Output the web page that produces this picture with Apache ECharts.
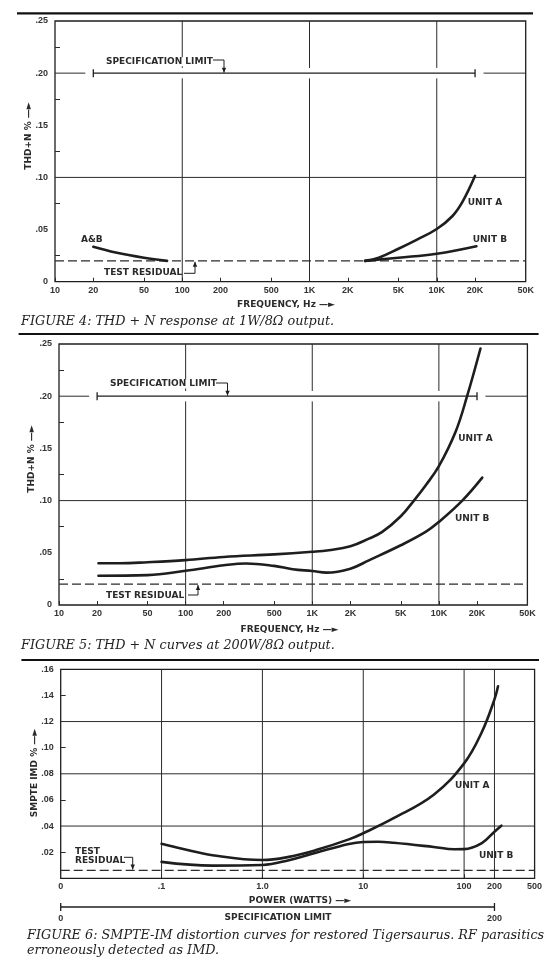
<!DOCTYPE html>
<html>
<head>
<meta charset="utf-8">
<script src="https://cdn.jsdelivr.net/npm/echarts@6/dist/echarts.min.js"></script>
<style>
html, body { margin: 0; padding: 0; background: #fff; }
#main { width: 560px; height: 962px; }
</style>
</head>
<body>
<div id="main"></div>
<script>
// ---- axes ----
var freqTicks = [10, 20, 50, 100, 200, 500, 1000, 2000, 5000, 10000, 20000, 50000];
var freqLabels = ['10', '20', '50', '100', '200', '500', '1K', '2K', '5K', '10K', '20K', '50K'];
var freqGrid = [100, 1000, 10000];
var thdGridY = [0.10];
var thdMinorTicks = [0.025, 0.075, 0.125, 0.175, 0.225];

var powerTicks = [0.01, 0.1, 1, 10, 100, 200, 500];
var powerLabels = ['0', '.1', '1.0', '10', '100', '200', '500'];
var powerGrid = [0.1, 1, 10, 100, 200];
var imdGridY = [0.04, 0.08, 0.12];
var imdMinorTicks = [0.02, 0.06, 0.10, 0.14];

// ---- limits ----
var specLimit = 0.20;
var specRange = [20, 20000];
var specGapLeft = 17.3;     // .20 grid line stops here
var specGapRight = 23300;   // and starts again here
var thdResidual = 0.02;
var imdResidual = 0.006;
var powerSpec = [0.01, 200];
var powerSpecLabels = ['0', '200'];

// ---- FIGURE 4 : 1W/8 ohm ----
var fig4AB = [[20, 0.0335], [30, 0.028], [50, 0.023], [76, 0.020]];
var fig4A = [[2730, 0.020], [3500, 0.023], [5000, 0.0316], [7000, 0.0404], [10000, 0.0505],
             [13300, 0.063], [16000, 0.077], [20000, 0.1015]];
var fig4B = [[2730, 0.020], [5000, 0.023], [10000, 0.0268], [20500, 0.034]];

// ---- FIGURE 5 : 200W/8 ohm ----
var fig5A = [[20.5, 0.040], [30, 0.040], [50, 0.041], [100, 0.043], [200, 0.046], [500, 0.0485],
             [1000, 0.051], [1350, 0.0525], [2000, 0.0562], [2800, 0.0636], [3570, 0.070], [5000, 0.085],
             [6350, 0.100], [7850, 0.1145], [10000, 0.133], [13550, 0.166], [16700, 0.200], [21300, 0.2457]];
var fig5B = [[20.5, 0.028], [50, 0.0286], [100, 0.0328], [200, 0.038], [300, 0.0398], [500, 0.0375],
             [700, 0.0343], [1000, 0.0325], [1300, 0.031], [2000, 0.0348], [2800, 0.0428], [5000, 0.0572],
             [7850, 0.070], [10000, 0.0796], [15300, 0.100], [22000, 0.122]];

// ---- FIGURE 6 : SMPTE IMD vs power ----
var fig6A = [[0.1, 0.0264], [0.16, 0.0226], [0.32, 0.0177], [1, 0.014], [1.83, 0.0164], [3.4, 0.0216],
             [7.2, 0.0298], [10, 0.0345], [20, 0.046], [50, 0.064], [100, 0.088], [150, 0.112],
             [200, 0.137], [217, 0.147]];
var fig6B = [[0.1, 0.0126], [0.32, 0.0097], [1, 0.0102], [1.83, 0.0139], [3.4, 0.0196], [7.2, 0.0263],
             [10, 0.0278], [14, 0.028], [20, 0.0272], [50, 0.0240], [80, 0.0222], [100, 0.0223],
             [150, 0.027], [200, 0.0357], [234, 0.0403]];

var INK = '#1e1e1e';
var GRIDC = '#2b2b2b';
var SANS = '"Liberation Sans", Arial, sans-serif';
var LETTER = '"DejaVu Sans", "Liberation Sans", sans-serif';
var SERIF = '"DejaVu Serif", "Liberation Serif", serif';

var myChart = echarts.init(document.getElementById('main'));

function pickLabel(ticks, labels) {
	return function(v) {
		for (var i = 0; i < ticks.length; i++) {
			if (Math.abs(Math.log10(ticks[i]) - Math.log10(v)) < 1e-6) return labels[i];
		}
		return '';
	};
}

function logAxis(gi, min, max, ticks, labels, show) {
	return {
		type : 'log',
		logBase : 10,
		gridIndex : gi,
		min : min,
		max : max,
		show : show !== false,
		axisLine : { show : false },
		axisTick : { show : true, inside : true, length : 4, customValues : ticks,
			lineStyle : { color : GRIDC, width : 1 } },
		axisLabel : { customValues : ticks, formatter : pickLabel(ticks, labels), margin : 4,
			fontFamily : SANS, fontSize : 9, fontWeight : 'bold', color : '#333' },
		splitLine : { show : false }
	};
}

function valAxis(gi, max, interval, minor, showZero) {
	return {
		type : 'value',
		gridIndex : gi,
		min : 0,
		max : max,
		interval : interval,
		axisLine : { show : false },
		axisTick : { show : true, inside : true, length : 5, customValues : minor,
			lineStyle : { color : GRIDC, width : 1 } },
		axisLabel : {
			margin : 7, fontFamily : SANS, fontSize : 9, fontWeight : 'bold', color : '#333',
			formatter : function(v) {
				if (Math.abs(v) < 1e-9) return showZero ? '0' : '';
				return v.toFixed(2).replace('0.', '.');
			}
		},
		splitLine : { show : false }
	};
}

function seg(gi, pts, width, type) {
	return {
		type : 'line', xAxisIndex : gi, yAxisIndex : gi, data : pts, silent : true,
		showSymbol : false, symbol : 'none', animation : false, z : 1,
		lineStyle : { color : GRIDC, width : width || 1, type : type || 'solid' }
	};
}

function curve(gi, pts) {
	return {
		type : 'line', xAxisIndex : gi, yAxisIndex : gi, data : pts, silent : true,
		smooth : 0.4, showSymbol : false, symbol : 'none',
		animation : false, z : 5,
		lineStyle : { color : INK, width : 2.6, cap : 'round' }
	};
}

function specLine(gi, range, y) {
	return {
		type : 'line', xAxisIndex : gi, yAxisIndex : gi, silent : true, animation : false, z : 3,
		data : [[range[0], y], [range[1], y]],
		symbol : 'rect', symbolSize : [1.3, 8], showSymbol : true,
		itemStyle : { color : INK },
		lineStyle : { color : INK, width : 1.2 }
	};
}

var series = [];

// figure 4 and 5 share layout
[0, 1].forEach(function(gi) {
	// vertical grid lines with a break at the spec-limit line
	freqGrid.forEach(function(f) {
		series.push(seg(gi, [[f, 0], [f, specLimit - 0.005]]));
		series.push(seg(gi, [[f, specLimit + 0.005], [f, 0.25]]));
	});
	thdGridY.forEach(function(y) {
		series.push(seg(gi, [[10, y], [50000, y]]));
	});
	series.push(seg(gi, [[10, specLimit], [specGapLeft, specLimit]]));
	series.push(seg(gi, [[specGapRight, specLimit], [50000, specLimit]]));
	series.push(specLine(gi, specRange, specLimit));
	series.push(seg(gi, [[10, thdResidual], [50000, thdResidual]], 1.3, [9, 4]));
});

series.push(curve(0, fig4AB));
series.push(curve(0, fig4A));
series.push(curve(0, fig4B));
series.push(curve(1, fig5A));
series.push(curve(1, fig5B));

// figure 6
powerGrid.forEach(function(p) {
	series.push(seg(2, [[p, 0], [p, 0.16]]));
});
imdGridY.forEach(function(y) {
	series.push(seg(2, [[0.01, y], [500, y]]));
});
series.push(seg(2, [[0.01, imdResidual], [500, imdResidual]], 1.3, [9, 4]));
series.push(curve(2, fig6A));
series.push(curve(2, fig6B));

// power spec bracket under figure 6
series.push({
	type : 'line', xAxisIndex : 3, yAxisIndex : 3, silent : true, animation : false,
	data : [[powerSpec[0], 0.5], [powerSpec[1], 0.5]],
	symbol : 'rect', symbolSize : [1.3, 8], showSymbol : true,
	itemStyle : { color : INK },
	lineStyle : { color : INK, width : 1.3 },
	label : {
		show : true, position : 'bottom', distance : 3,
		fontFamily : SANS, fontSize : 9, fontWeight : 'bold', color : '#333',
		formatter : function(p) { return powerSpecLabels[p.dataIndex]; }
	}
});

var gridStyle = { show : true, borderColor : INK, borderWidth : 1.3, backgroundColor : 'transparent' };

myChart.setOption({
	backgroundColor : '#fff',
	animation : false,
	grid : [
		Object.assign({ left : 55, top : 21, width : 470.7, height : 260.7 }, gridStyle),
		Object.assign({ left : 59, top : 344, width : 468.4, height : 261 }, gridStyle),
		Object.assign({ left : 60.7, top : 669.3, width : 473.9, height : 209 }, gridStyle),
		{ left : 60.7, top : 902, width : 473.9, height : 10, show : false }
	],
	xAxis : [
		logAxis(0, 10, 50000, freqTicks, freqLabels),
		logAxis(1, 10, 50000, freqTicks, freqLabels),
		logAxis(2, 0.01, 500, powerTicks, powerLabels),
		logAxis(3, 0.01, 500, powerTicks, powerLabels, false)
	],
	yAxis : [
		valAxis(0, 0.25, 0.05, thdMinorTicks, true),
		valAxis(1, 0.25, 0.05, thdMinorTicks, true),
		valAxis(2, 0.16, 0.02, imdMinorTicks, false),
		{ type : 'value', gridIndex : 3, min : 0, max : 1, show : false }
	],
	series : series
});

// ---- annotations ----
function px(gi, x, y) {
	return myChart.convertToPixel({ xAxisIndex : gi, yAxisIndex : gi }, [x, y]);
}

var g = [];

function txt(x, y, s, opt) {
	opt = opt || {};
	g.push({
		type : 'text', x : x, y : y, z : 20, rotation : opt.rot || 0,
		style : {
			text : s, fill : opt.color || '#2a2a2a',
			font : opt.font || ('bold 9px ' + LETTER),
			textAlign : opt.align || 'left', textVerticalAlign : 'middle',
			backgroundColor : opt.bg, padding : opt.bg ? [0, 2] : 0
		}
	});
}

function hook(x0, x1, yTop, yTip) {
	// horizontal leader from label end, then a vertical arrow to the line
	g.push({ type : 'polyline', z : 20, shape : { points : [[x0, yTop], [x1, yTop], [x1, yTip]] },
		style : { stroke : INK, lineWidth : 1, fill : null } });
	var d = yTip > yTop ? 1 : -1;
	g.push({ type : 'polygon', z : 20,
		shape : { points : [[x1 - 2.2, yTip - d * 5], [x1 + 2.2, yTip - d * 5], [x1, yTip]] },
		style : { fill : INK } });
}

function rule(y, x0, x1) {
	g.push({ type : 'line', z : 20, shape : { x1 : x0, y1 : y, x2 : x1, y2 : y },
		style : { stroke : '#111', lineWidth : 2.2 } });
}

var ARROW = '\u2014\u25BA';
var CAP = 'italic 12.8px ' + SERIF;

// figure 4
rule(13.3, 17, 533);
txt(104, 61.7, 'SPECIFICATION LIMIT', { bg : '#fff' });
hook(213, 224, 60, px(0, 10, specLimit)[1] - 0.5);
txt(81, 240, 'A&B');
txt(104, 272.3, 'TEST RESIDUAL');
hook(184, 195, 273.3, px(0, 10, thdResidual)[1] + 1);
txt(467.7, 202.7, 'UNIT A');
txt(472.7, 240, 'UNIT B');
txt(28.6, 136, 'THD+N % ' + ARROW, { rot : Math.PI / 2, align : 'center' });
txt(286, 305, 'FREQUENCY, Hz ' + ARROW, { align : 'center' });
txt(21, 322, 'FIGURE 4: THD + N response at 1W/8\u03A9 output.', { font : CAP, color : '#222' });

// figure 5
rule(334, 18.6, 538.6);
txt(108, 384, 'SPECIFICATION LIMIT', { bg : '#fff' });
hook(216, 227.5, 383, px(1, 10, specLimit)[1] - 0.5);
txt(106, 596, 'TEST RESIDUAL');
hook(188, 198, 595, px(1, 10, thdResidual)[1] + 1);
txt(458.3, 438.7, 'UNIT A');
txt(455, 518.3, 'UNIT B');
txt(31.4, 459, 'THD+N % ' + ARROW, { rot : Math.PI / 2, align : 'center' });
txt(289.5, 629.3, 'FREQUENCY, Hz ' + ARROW, { align : 'center' });
txt(21, 646, 'FIGURE 5: THD + N curves at 200W/8\u03A9 output.', { font : CAP, color : '#222' });

// figure 6
rule(660, 21.4, 539);
txt(75, 851.7, 'TEST');
txt(75, 861, 'RESIDUAL');
hook(124, 132.7, 857.3, px(2, 0.01, imdResidual)[1] - 1);
txt(455, 785.7, 'UNIT A');
txt(479, 856, 'UNIT B');
txt(35, 773, 'SMPTE IMD % ' + ARROW, { rot : Math.PI / 2, align : 'center' });
txt(300, 900.7, 'POWER (WATTS) ' + ARROW, { align : 'center' });
txt(278, 918, 'SPECIFICATION LIMIT', { align : 'center' });
txt(27, 935.7, 'FIGURE 6: SMPTE-IM distortion curves for restored Tigersaurus. RF parasitics', { font : CAP, color : '#222' });
txt(27, 951, 'erroneously detected as IMD.', { font : CAP, color : '#222' });

myChart.setOption({ graphic : g });
</script>
</body>
</html>
